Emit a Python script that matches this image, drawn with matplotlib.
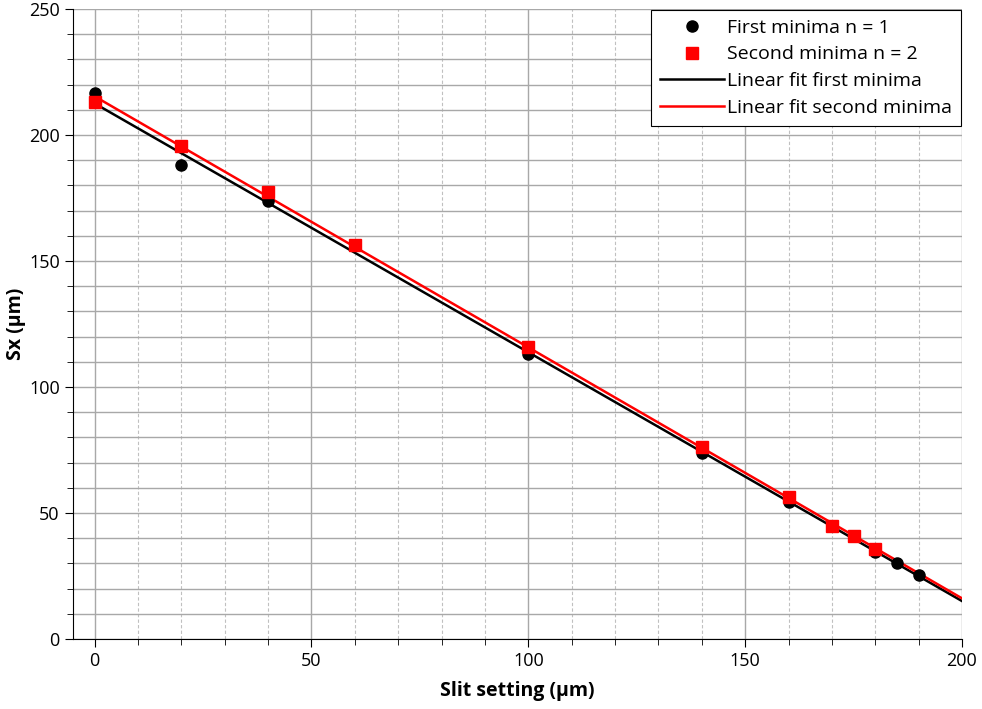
import numpy as np
import matplotlib.pyplot as plt
from matplotlib.ticker import MultipleLocator

plt.rcParams['font.family'] = ['Open Sans', 'Noto Sans', 'DejaVu Sans']

# slit setting (um) and measured Sx (um)
slit_first = [0, 20, 40, 100, 140, 160, 175, 180, 185, 190]
sx_first = [216.5, 188, 174, 113, 73.8, 54.4, 40.8, 34.6, 30, 25.3]

slit_second = [0, 20, 40, 60, 100, 140, 160, 170, 175, 180]
sx_second = [213, 195.5, 177.5, 156.5, 115.8, 76.3, 56.3, 45, 41, 35.7]

# linear fits
p1 = np.polyfit(slit_first, sx_first, 1)
p2 = np.polyfit(slit_second, sx_second, 1)
xfit = np.array([0, 200])

fig = plt.figure(figsize=(9.82, 7.09), dpi=100)
ax = fig.add_axes([0.0743, 0.0987, 0.9053, 0.8886])

ax.plot(slit_first, sx_first, 'o', color='black', markersize=8, label='First minima n = 1', zorder=3)
ax.plot(slit_second, sx_second, 's', color='red', markersize=8.5, label='Second minima n = 2', zorder=4)
ax.plot(xfit, np.polyval(p1, xfit), '-', color='black', linewidth=1.8, label='Linear fit first minima', zorder=2)
ax.plot(xfit, np.polyval(p2, xfit), '-', color='red', linewidth=1.8, label='Linear fit second minima', zorder=2)

ax.set_xlim(-5, 200)
ax.set_ylim(0, 250)
ax.xaxis.set_major_locator(MultipleLocator(50))
ax.xaxis.set_minor_locator(MultipleLocator(10))
ax.yaxis.set_major_locator(MultipleLocator(50))
ax.yaxis.set_minor_locator(MultipleLocator(10))

ax.grid(which='major', color='#a8a8a8', linewidth=1.0)
ax.grid(which='minor', axis='y', color='#a8a8a8', linewidth=1.0)
ax.grid(which='minor', axis='x', color='#c0c0c0', linewidth=0.8, linestyle=(0, (3, 2)))
ax.set_axisbelow(True)

for s in ['top', 'right']:
    ax.spines[s].set_visible(False)
ax.tick_params(which='major', direction='out', length=6, labelsize=13)
ax.tick_params(which='minor', direction='out', length=4)

ax.set_xlabel('Slit setting (µm)', fontsize=14, fontweight='bold', labelpad=8)
ax.set_ylabel('Sx (µm)', fontsize=14, fontweight='bold', labelpad=2)

leg = ax.legend(loc='upper right', fontsize=14, frameon=True, fancybox=False,
                edgecolor='black', framealpha=1, borderaxespad=0.05,
                handlelength=3.3, handletextpad=0.15, borderpad=0.45, labelspacing=0.45)
leg.get_frame().set_linewidth(0.8)

plt.savefig('out.png', dpi=100)
